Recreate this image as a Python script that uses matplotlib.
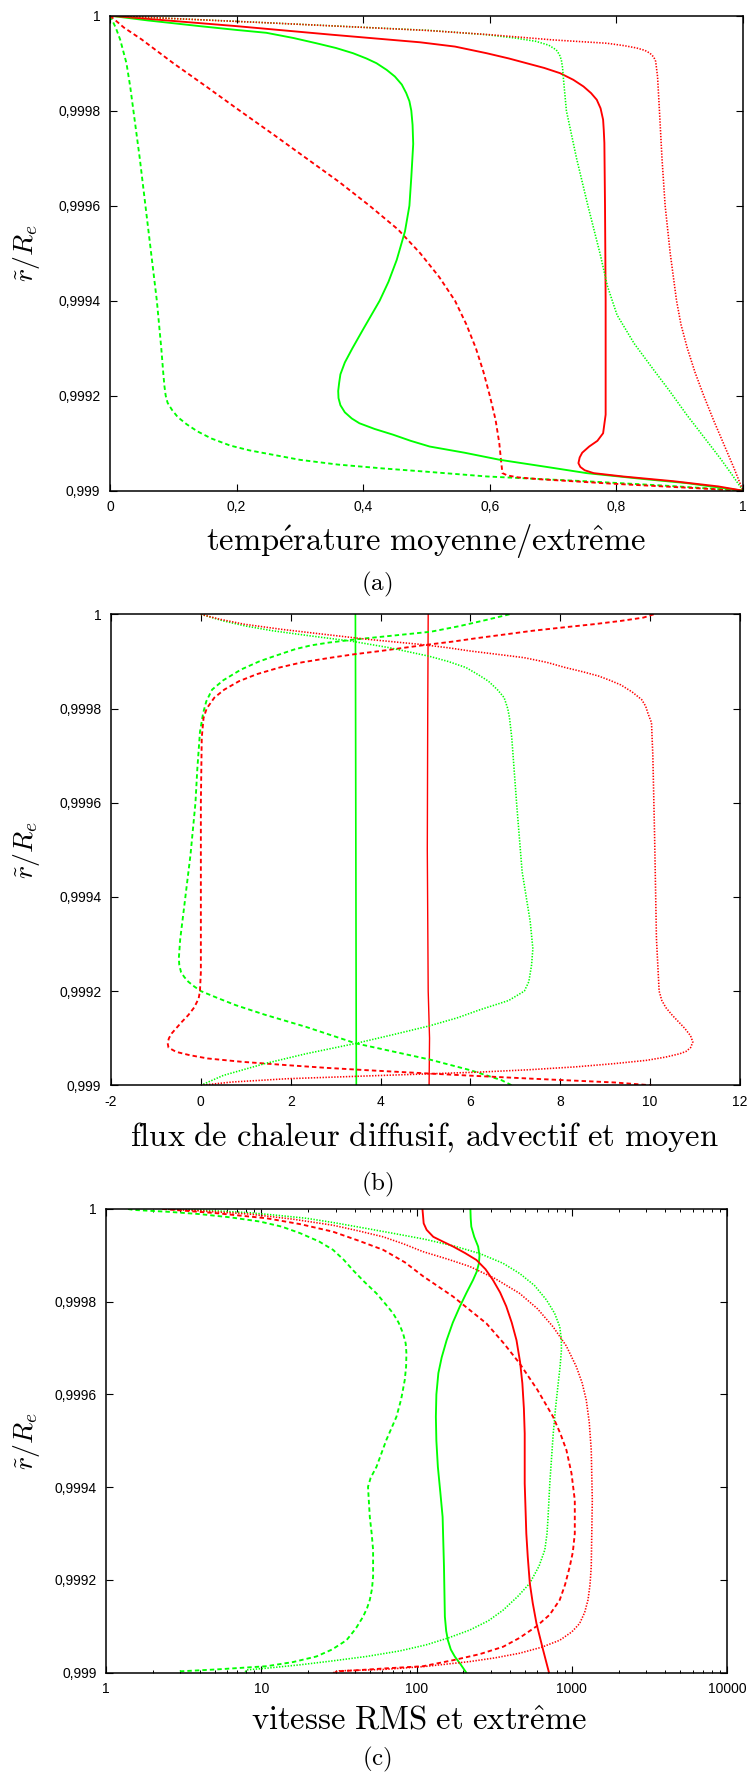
import numpy as np
import matplotlib
matplotlib.use("Agg")
import matplotlib.pyplot as plt
from matplotlib.ticker import LogLocator, NullFormatter

plt.rcParams['mathtext.fontset'] = 'cm'
plt.rcParams['font.family'] = ['Liberation Sans', 'DejaVu Sans']
plt.rcParams['lines.scale_dashes'] = False
plt.rcParams['lines.solid_capstyle'] = 'round'
plt.rcParams['lines.solid_joinstyle'] = 'round'

RED = '#ff0000'
GREEN = '#00ff00'

# Depths are given as 1 - r/R_e in units of 1e-4 (0 = outer surface, 10 = r/R_e = 0.999)

# ---- (a) mean / extreme temperature ----
A_GREEN_DASHED_D = [0, 0.25, 0.5, 1, 1.5, 2, 3, 4, 5, 6, 7, 7.5, 7.8, 8.0, 8.15, 8.3, 8.45, 8.6, 8.75, 8.9,
                    9.05, 9.15, 9.25, 9.35, 9.45, 9.53, 9.6, 9.7, 9.8, 9.9, 10]
A_GREEN_DASHED = [0, 0.009, 0.016, 0.026, 0.032, 0.037, 0.047, 0.056, 0.065, 0.074, 0.081, 0.084, 0.086, 0.088,
                  0.091, 0.098, 0.107, 0.121, 0.138, 0.16, 0.19, 0.22, 0.26, 0.30, 0.36, 0.43, 0.50, 0.595,
                  0.75, 0.885, 1.0]

A_RED_DASHED_D = [0, 0.25, 0.5, 1, 1.5, 2, 2.5, 3, 3.5, 4, 4.5, 5.0, 5.5, 6, 6.5, 7, 7.5, 8, 8.5, 9.0, 9.4,
                  9.63, 9.68, 9.72, 9.76, 9.8, 9.85, 9.9, 9.95, 10]
A_RED_DASHED = [0, 0.022, 0.05, 0.10, 0.153, 0.205, 0.258, 0.31, 0.362, 0.41, 0.455, 0.49, 0.52, 0.545, 0.563,
                0.578, 0.59, 0.600, 0.609, 0.615, 0.618, 0.62, 0.628, 0.645, 0.68, 0.73, 0.79, 0.86, 0.93, 1.0]

A_GREEN_SOLID_D = [0, 0.1, 0.22, 0.3, 0.36, 0.47, 0.58, 0.68, 0.79, 0.9, 1.0, 1.14, 1.28, 1.45, 1.63, 1.8, 2.0,
                   2.3, 2.7, 3.4, 4.0, 4.54, 5.14, 5.6, 6.0, 6.6, 7.0, 7.3, 7.55, 7.73, 7.9, 8.05, 8.2, 8.35,
                   8.48, 8.58, 8.7, 8.82, 8.95, 9.07, 9.2, 9.35, 9.5, 9.63, 9.75, 9.84, 9.92, 10]
A_GREEN_SOLID = [0, 0.06, 0.142, 0.2, 0.247, 0.29, 0.326, 0.357, 0.384, 0.405, 0.421, 0.437, 0.45, 0.461,
                 0.468, 0.473, 0.476, 0.478, 0.479, 0.476, 0.473, 0.466, 0.453, 0.44, 0.426, 0.40, 0.383,
                 0.371, 0.364, 0.362, 0.3605, 0.361, 0.364, 0.371, 0.382, 0.394, 0.418, 0.447, 0.475, 0.505,
                 0.56, 0.616, 0.69, 0.753, 0.84, 0.911, 0.955, 1.0]

A_RED_SOLID_D = [0, 0.1, 0.22, 0.4, 0.56, 0.65, 0.79, 0.9, 1.0, 1.1, 1.21, 1.35, 1.49, 1.63, 1.77, 1.95, 2.19,
                 2.4, 2.68, 4, 6, 8.0, 8.4, 8.79, 8.95, 9.07, 9.2, 9.3, 9.42, 9.5, 9.57, 9.63, 9.7, 9.8, 9.91,
                 10]
A_RED_SOLID = [0, 0.09, 0.2, 0.35, 0.49, 0.545, 0.595, 0.63, 0.658, 0.686, 0.711, 0.732, 0.748, 0.76, 0.769,
               0.775, 0.779, 0.78, 0.781, 0.782, 0.783, 0.783, 0.783, 0.779, 0.77, 0.757, 0.746, 0.742, 0.740,
               0.743, 0.75, 0.764, 0.81, 0.89, 0.961, 1.0]

A_GREEN_DOTTED_D = [0, 0.15, 0.31, 0.4, 0.47, 0.54, 0.62, 0.72, 0.82, 0.93, 1.1, 1.28, 2.0, 3.0, 4.0, 5.0, 5.7,
                    6.3, 6.9, 7.44, 7.9, 8.4, 8.85, 9.3, 9.65, 10]
A_GREEN_DOTTED = [0, 0.25, 0.505, 0.595, 0.64, 0.673, 0.693, 0.705, 0.71, 0.713, 0.715, 0.716, 0.721, 0.737,
                  0.755, 0.774, 0.786, 0.801, 0.828, 0.858, 0.884, 0.911, 0.937, 0.963, 0.982, 1.0]

A_RED_DOTTED_D = [0, 0.15, 0.31, 0.4, 0.51, 0.58, 0.63, 0.68, 0.73, 0.79, 0.87, 0.96, 1.28, 2, 3, 4, 5, 5.5, 6,
                  6.5, 7, 7.5, 8, 8.5, 9.0, 9.5, 10]
A_RED_DOTTED = [0, 0.25, 0.5, 0.6, 0.70, 0.785, 0.812, 0.832, 0.845, 0.853, 0.859, 0.862, 0.865, 0.868,
                0.872, 0.877, 0.885, 0.89, 0.895, 0.902, 0.912, 0.924, 0.938, 0.953, 0.969, 0.985, 1.0]

# ---- (b) diffusive, advective and mean heat flux ----
B_GREEN_SOLID_D = [0, 5, 10]
B_GREEN_SOLID = [3.44, 3.45, 3.46]

B_RED_SOLID_D = [0, 2, 5, 8, 9, 10]
B_RED_SOLID = [5.06, 5.05, 5.04, 5.06, 5.09, 5.08]

B_GREEN_DASHED_D = [0, 0.12, 0.25, 0.37, 0.45, 0.53, 0.6, 0.66, 0.74, 0.82, 0.9, 1.0, 1.17, 1.4, 1.6, 1.85,
                    2.1, 2.5, 3.3, 4.0, 5.1, 6.2, 6.9, 7.3, 7.45, 7.6, 7.7, 7.8, 7.9, 8.0, 8.15, 8.3, 8.5, 8.76,
                    9.11, 9.45, 9.68, 9.89, 10]
B_GREEN_DASHED = [6.87, 6.35, 5.76, 5.12, 4.3, 3.47, 2.85, 2.45, 2.1, 1.85, 1.6, 1.3, 0.9, 0.5, 0.25, 0.12,
                  0.05, -0.02, -0.08, -0.12, -0.23, -0.37, -0.46, -0.49, -0.48, -0.44, -0.37, -0.28, -0.15,
                  0.0, 0.38, 0.78, 1.42, 2.34, 3.45, 5.08, 6.0, 6.69, 6.92]

B_RED_DASHED_D = [0, 0.07, 0.14, 0.21, 0.28, 0.35, 0.43, 0.5, 0.58, 0.65, 0.72, 0.78, 0.85, 0.92, 1.02, 1.13,
                  1.27, 1.42, 1.6, 1.77, 2.0, 2.2, 2.62, 4.0, 6.2, 7.6, 8.0, 8.16, 8.35, 8.51, 8.65, 8.79, 8.9,
                  9.0, 9.1, 9.2, 9.29, 9.36, 9.43, 9.5, 9.57, 9.63, 9.68, 9.75, 9.8, 9.86, 9.94, 10]
B_RED_DASHED = [10.08, 9.85, 9.35, 8.75, 8.05, 7.38, 6.75, 6.19, 5.6, 5.0, 4.45, 3.99, 3.4, 2.9, 2.25, 1.75,
                1.25, 0.85, 0.52, 0.3, 0.13, 0.06, 0.02, 0.0, 0.0, 0.0, -0.02, -0.05, -0.15, -0.28, -0.42,
                -0.55, -0.65, -0.71, -0.74, -0.72, -0.55, -0.25, 0.15, 0.9, 1.88, 2.8, 3.71, 5.08, 6.1, 7.38,
                9.21, 10.03]

B_GREEN_DOTTED_D = [0, 0.14, 0.25, 0.35, 0.46, 0.57, 0.71, 0.89, 1.0, 1.13, 1.28, 1.42, 1.6, 1.77, 2.0, 2.2,
                    2.62, 4.04, 5.46, 6.52, 7.1, 7.45, 7.8, 8.0, 8.2, 8.4, 8.57, 8.74, 8.92, 9.11, 9.33, 9.54,
                    9.79, 10]
B_GREEN_DOTTED = [0, 0.5, 1.0, 1.6, 2.45, 3.35, 4.2, 5.08, 5.5, 5.9, 6.17, 6.4, 6.6, 6.75, 6.83, 6.87, 6.92,
                  7.03, 7.15, 7.33, 7.39, 7.36, 7.3, 7.2, 6.85, 6.2, 5.7, 5.08, 4.3, 3.45, 2.34, 1.42, 0.5, 0.0]

B_RED_DOTTED_D = [0, 0.1, 0.21, 0.32, 0.43, 0.53, 0.64, 0.71, 0.78, 0.85, 0.92, 1.02, 1.13, 1.22, 1.31, 1.4,
                  1.5, 1.65, 1.81, 1.95, 2.1, 2.3, 3.0, 4.75, 6.88, 8.0, 8.2, 8.35, 8.51, 8.65, 8.79, 8.95,
                  9.08, 9.2, 9.28, 9.33, 9.4, 9.47, 9.54, 9.61, 9.67, 9.72, 9.79, 9.86, 9.93, 10]
B_RED_DOTTED = [0, 0.4, 0.96, 1.8, 2.79, 3.7, 4.9, 5.5, 6.0, 6.6, 7.19, 7.7, 8.11, 8.5, 8.85, 9.1, 9.35, 9.6,
                9.81, 9.9, 9.95, 10.03, 10.06, 10.1, 10.14, 10.2, 10.26, 10.35, 10.49, 10.63, 10.77, 10.9,
                10.95, 10.9, 10.8, 10.66, 10.35, 9.92, 9.2, 8.32, 7.3, 6.19, 4.05, 1.93, 0.7, 0.0]

# ---- (c) RMS and extreme velocity ----
C_GREEN_DASHED_D = [0, 0.02, 0.06, 0.11, 0.18, 0.27, 0.38, 0.52, 0.7, 0.88, 1.1, 1.32, 1.57, 1.82, 2.05, 2.25,
                    2.45, 2.68, 2.9, 3.11, 3.4, 3.69, 4.1, 4.48, 4.98, 5.56, 5.8, 5.99, 6.3, 6.64, 7.0, 7.35,
                    7.93, 8.2, 8.43, 8.6, 8.79, 9.05, 9.3, 9.5, 9.65, 9.77, 9.86, 9.93, 9.97, 10]
C_GREEN_DASHED = [1.38, 1.5, 2.5, 4.0, 6.3, 9.75, 13.5, 17.7, 23.5, 28.9, 34, 38.9, 46, 55.1, 63, 70.5, 76.5,
                  81.7, 85, 85.9, 85.5, 83.8, 79.5, 74.1, 63.8, 55.1, 50.5, 48.6, 49.2, 49.9, 51.3, 52.4, 52.4,
                  51.5, 49.9, 48, 45.2, 40.5, 35.3, 28.5, 22.6, 16, 10.8, 5.1, 3.0, 2.9]

C_GREEN_DOTTED_D = [0, 0.03, 0.08, 0.14, 0.2, 0.3, 0.42, 0.53, 0.65, 0.8, 0.96, 1.17, 1.39, 1.65, 1.96, 2.25,
                    2.54, 2.8, 3.04, 3.4, 3.76, 4.3, 4.84, 5.92, 6.64, 7.0, 7.35, 7.7, 8.07, 8.35, 8.65, 8.88,
                    9.08, 9.25, 9.4, 9.53, 9.65, 9.75, 9.83, 9.9, 9.94, 10]
C_GREEN_DOTTED = [2.5, 4.5, 8.4, 13, 19.5, 30, 47.5, 72, 112, 175, 255, 360, 461, 575, 686, 775, 836, 855,
                  857, 840, 817, 785, 759, 721, 703, 692, 670, 615, 536, 450, 361, 290, 220, 160, 115, 78, 47.5,
                  28, 17.7, 11, 8.0, 7.8]

C_GREEN_SOLID_D = [0, 0.2, 0.38, 0.6, 0.81, 1.0, 1.17, 1.35, 1.53, 1.8, 2.1, 2.45, 2.83, 3.2, 3.54, 4.0, 4.48,
                   5.0, 5.56, 6.1, 6.64, 7.71, 8.79, 9.1, 9.3, 9.5, 9.65, 9.82, 10]
C_GREEN_SOLID = [222, 223, 225, 235, 249, 254, 252, 244, 231, 210, 190, 171, 156, 145, 138, 134, 133, 134, 137,
                 142, 147, 150, 152, 155, 159, 166, 176, 192, 209]

C_RED_SOLID_D = [0, 0.31, 0.45, 0.6, 0.7, 0.81, 0.95, 1.1, 1.3, 1.53, 1.8, 2.1, 2.45, 2.83, 3.3, 3.76, 4.3, 4.84,
                 5.92, 7.0, 7.5, 8.07, 8.5, 8.94, 9.51, 10]
C_RED_SOLID = [109, 111, 116, 128, 147, 172, 205, 243, 278, 310, 345, 378, 410, 440, 464, 480, 491, 497, 497,
               509, 520, 536, 560, 592, 653, 713]

C_RED_DASHED_D = [0, 0.03, 0.09, 0.2, 0.33, 0.49, 0.68, 0.88, 1.15, 1.45, 1.89, 2.47, 2.9, 3.33, 3.9, 4.48,
                  4.85, 5.2, 5.7, 6.28, 7.0, 7.4, 7.71, 8.1, 8.43, 8.75, 9.0, 9.25, 9.44, 9.6, 9.73, 9.86, 9.91,
                  9.95, 9.97, 10]
C_RED_DASHED = [2.3, 3.0, 5.1, 10.8, 18, 28.9, 42, 60.8, 84, 110, 172, 282, 365, 461, 600, 757, 845, 923, 995,
                1045, 1045, 1015, 970, 905, 836, 720, 592, 460, 361, 255, 172, 110, 60.8, 40, 30.4, 30]

C_RED_DOTTED_D = [0, 0.04, 0.11, 0.22, 0.35, 0.47, 0.6, 0.75, 0.92, 1.08, 1.24, 1.5, 1.82, 2.15, 2.54, 2.95,
                  3.4, 3.75, 4.12, 4.6, 5.2, 6.28, 7.71, 8.1, 8.43, 8.7, 8.94, 9.12, 9.3, 9.45, 9.58, 9.68,
                  9.76, 9.87, 9.93, 9.96, 10]
C_RED_DOTTED = [2.3, 4, 8.4, 16, 28.9, 42, 60.8, 82, 110, 158, 220, 320, 461, 600, 757, 920, 1069, 1165, 1239,
                1295, 1334, 1355, 1334, 1310, 1271, 1210, 1122, 1000, 836, 640, 461, 320, 220, 110, 60.8, 31.6,
                29]

R_TICKS = [0.999, 0.9992, 0.9994, 0.9996, 0.9998, 1.0]
R_TICKLABELS = ['0,999', '0,9992', '0,9994', '0,9996', '0,9998', '1']
A_XTICKS = [0, 0.2, 0.4, 0.6, 0.8, 1.0]
A_XTICKLABELS = ['0', '0,2', '0,4', '0,6', '0,8', '1']
B_XTICKS = [-2, 0, 2, 4, 6, 8, 10, 12]
B_XTICKLABELS = ['-2', '0', '2', '4', '6', '8', '10', '12']
C_XTICKS = [1, 10, 100, 1000, 10000]
C_XTICKLABELS = ['1', '10', '100', '1000', '10000']

W, H = 751, 1773
fig = plt.figure(figsize=(W / 100, H / 100), dpi=100)


def rect(left, top, right, bottom):
    return [left / W, 1 - bottom / H, (right - left) / W, (bottom - top) / H]


STYLES = {
    'solid': dict(linestyle='-', lw=1.35),
    'dashed': dict(dashes=(3.2, 2.2), lw=1.35),
    'dotted': dict(dashes=(1.0, 1.1), lw=1.15),
}


def radius(depth):
    return 1.0 - np.asarray(depth) * 1e-4


def draw(ax, depth, values, color, style, lw=None):
    kw = dict(STYLES[style])
    if lw is not None:
        kw['lw'] = lw
    ax.plot(values, radius(depth), color=color, **kw)


def frame(ax, xticks, xlabels):
    ax.set_ylim(0.999, 1.0)
    ax.set_yticks(R_TICKS)
    ax.set_yticklabels(R_TICKLABELS)
    ax.set_xticks(xticks)
    ax.set_xticklabels(xlabels)
    ax.tick_params(which='major', direction='in', top=True, right=True, length=5, width=0.8,
                   labelsize=10, pad=7, colors='black')
    for s in ax.spines.values():
        s.set_linewidth(1.1)


def ylabel(y_center):
    fig.text(27 / W, 1 - y_center / H, r'$\tilde{r}/R_e$', rotation=90, ha='center', va='center',
             fontsize=20)


def caption(x, baseline, text, size):
    fig.text(x / W, 1 - baseline / H, text, ha='center', va='baseline', fontsize=size)


# (a)
axa = fig.add_axes(rect(110, 15.7, 743, 490.7))
draw(axa, A_GREEN_DASHED_D, A_GREEN_DASHED, GREEN, 'dashed')
draw(axa, A_RED_DASHED_D, A_RED_DASHED, RED, 'dashed')
draw(axa, A_GREEN_SOLID_D, A_GREEN_SOLID, GREEN, 'solid')
draw(axa, A_RED_SOLID_D, A_RED_SOLID, RED, 'solid')
draw(axa, A_GREEN_DOTTED_D, A_GREEN_DOTTED, GREEN, 'dotted')
draw(axa, A_RED_DOTTED_D, A_RED_DOTTED, RED, 'dotted')
axa.set_xlim(0, 1)
frame(axa, A_XTICKS, A_XTICKLABELS)
ylabel(253)
caption(426.5, 550, r'$\mathrm{temp\acute{e}rature\ moyenne/extr\hat{e}me}$', 23.5)
caption(377, 590, r'$\mathrm{(a)}$', 18)

# (b)
axb = fig.add_axes(rect(111, 614.3, 740, 1085.3))
draw(axb, B_GREEN_SOLID_D, B_GREEN_SOLID, GREEN, 'solid', lw=1.2)
draw(axb, B_RED_SOLID_D, B_RED_SOLID, RED, 'solid', lw=1.0)
draw(axb, B_GREEN_DASHED_D, B_GREEN_DASHED, GREEN, 'dashed')
draw(axb, B_RED_DASHED_D, B_RED_DASHED, RED, 'dashed')
draw(axb, B_GREEN_DOTTED_D, B_GREEN_DOTTED, GREEN, 'dotted')
draw(axb, B_RED_DOTTED_D, B_RED_DOTTED, RED, 'dotted')
axb.set_xlim(-2, 12)
frame(axb, B_XTICKS, B_XTICKLABELS)
ylabel(850)
caption(424.5, 1146, r'$\mathrm{flux\ de\ chaleur\ diffusif,\,advectif\ et\ moyen}$', 23.5)
caption(377, 1190, r'$\mathrm{(b)}$', 18)

# (c)
axc = fig.add_axes(rect(106.3, 1209, 727, 1672.7))
axc.set_xscale('log')
draw(axc, C_GREEN_DASHED_D, C_GREEN_DASHED, GREEN, 'dashed')
draw(axc, C_GREEN_DOTTED_D, C_GREEN_DOTTED, GREEN, 'dotted')
draw(axc, C_GREEN_SOLID_D, C_GREEN_SOLID, GREEN, 'solid')
draw(axc, C_RED_SOLID_D, C_RED_SOLID, RED, 'solid')
draw(axc, C_RED_DASHED_D, C_RED_DASHED, RED, 'dashed')
draw(axc, C_RED_DOTTED_D, C_RED_DOTTED, RED, 'dotted')
axc.set_xlim(1, 10000)
frame(axc, C_XTICKS, C_XTICKLABELS)
axc.xaxis.set_minor_locator(LogLocator(base=10, subs=np.arange(2, 10)))
axc.xaxis.set_minor_formatter(NullFormatter())
axc.tick_params(which='minor', direction='in', top=True, length=2.5, width=0.7)
ylabel(1441)
caption(418.6, 1730, r'$\mathrm{vitesse\ RMS\ et\ extr\hat{e}me}$', 23.5)
caption(377, 1765, r'$\mathrm{(c)}$', 18)

fig.savefig('out.png', dpi=100)
